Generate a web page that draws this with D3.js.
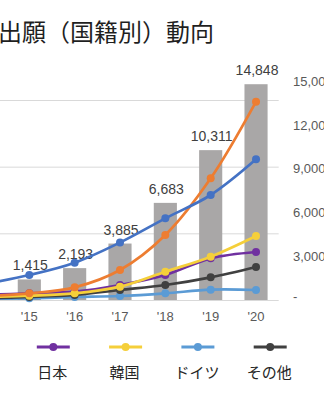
<!DOCTYPE html>
<html>
<head>
<meta charset="utf-8">
<script src="https://cdn.jsdelivr.net/npm/d3@7"></script>
<style>
  html, body { margin: 0; padding: 0; background: #fff; }
  svg { display: block; }
</style>
</head>
<body>
<svg id="chart" width="324" height="400"></svg>
<script>
// Years on the category axis
const years = [2014, 2015, 2016, 2017, 2018, 2019, 2020];
const yearLabels = ["'14", "'15", "'16", "'17", "'18", "'19", "'20"];

// Total applications per year (bars, right axis)
const totals = [920, 1415, 2193, 3885, 6683, 10311, 14848];

// Applications by applicant nationality (lines, left axis)
const seriesNames = ["中国", "米国", "日本", "韓国", "ドイツ", "その他"];
const china   = [110, 200, 380, 900, 1950, 3650, 5950];
const usa     = [480, 750, 1120, 1725, 2450, 3150, 4220];
const japan   = [150, 200, 250, 450, 750, 1250, 1440];
const korea   = [90, 130, 200, 400, 850, 1300, 1920];
const germany = [35, 50, 90, 120, 200, 310, 300];
const others  = [55, 90, 150, 300, 450, 680, 990];

const rightTicks = [0, 3000, 6000, 9000, 12000, 15000];
const leftTicks = [0, 2000, 4000, 6000];

const seriesValues = [china, usa, japan, korea, germany, others];
const seriesColors = ["#ED7D31", "#4472C4", "#7030A0", "#F5CF3A", "#5B9BD5", "#404040"];

const svg = d3.select("#chart");
const numFont = "'Liberation Sans', Arial, sans-serif";
const jpFont = "'Noto Sans CJK JP', 'Noto Sans', sans-serif";

// Title
svg.append("text")
  .attr("x", -2).attr("y", 41)
  .attr("font-family", jpFont)
  .attr("font-size", 24)
  .attr("fill", "#1f1f1f")
  .text("出願（国籍別）動向");

// Scales
const x = d3.scaleBand()
  .domain(years)
  .range([-38.7, 278.7])
  .paddingInner(0.49)
  .paddingOuter(0.245);
const cx = d => x(d) + x.bandwidth() / 2;

const yRight = d3.scaleLinear().domain([0, 15000]).range([300, 82]);
const yLeft = d3.scaleLinear().domain([0, 6000]).range([300, 100]);

// Gridlines (left axis)
svg.append("g").selectAll("line")
  .data(leftTicks)
  .join("line")
  .attr("x1", x.range()[0]).attr("x2", x.range()[1])
  .attr("y1", d => yLeft(d) + 0.5).attr("y2", d => yLeft(d) + 0.5)
  .attr("stroke", "#d9d9d9")
  .attr("stroke-width", 1);

// Right axis labels
svg.append("g").selectAll("text")
  .data(rightTicks)
  .join("text")
  .attr("x", 293)
  .attr("y", d => yRight(d))
  .attr("dy", d => d === 0 ? "0.1em" : "0.33em")
  .attr("font-family", numFont)
  .attr("font-size", 13)
  .attr("fill", "#595959")
  .text(d => d === 0 ? "-" : d3.format(",")(d));

// Bars
svg.append("g").selectAll("rect")
  .data(years.map((yr, i) => ({ yr, v: totals[i] })))
  .join("rect")
  .attr("x", d => x(d.yr))
  .attr("width", x.bandwidth())
  .attr("y", d => yRight(d.v))
  .attr("height", d => yRight(0) - yRight(d.v))
  .attr("fill", "#a9a7a7");

// Bar value labels
svg.append("g").selectAll("text")
  .data(years.map((yr, i) => ({ yr, v: totals[i] })))
  .join("text")
  .attr("x", d => cx(d.yr) + 1)
  .attr("y", d => yRight(d.v) - 9)
  .attr("text-anchor", "middle")
  .attr("font-family", numFont)
  .attr("font-size", 14)
  .attr("fill", "#404040")
  .text(d => d3.format(",")(d.v));

// Category labels
svg.append("g").selectAll("text")
  .data(years.map((yr, i) => ({ yr, label: yearLabels[i] })))
  .join("text")
  .attr("x", d => cx(d.yr))
  .attr("y", 321)
  .attr("text-anchor", "middle")
  .attr("font-family", numFont)
  .attr("font-size", 13)
  .attr("fill", "#595959")
  .text(d => d.label);

// Lines with markers
const line = d3.line()
  .x(d => cx(d.yr))
  .y(d => yLeft(d.v))
  .curve(d3.curveCatmullRom.alpha(0.5));

const drawOrder = [4, 5, 2, 3, 0, 1];
drawOrder.forEach(s => {
  const pts = years.map((yr, i) => ({ yr, v: seriesValues[s][i] }));
  const g = svg.append("g");
  g.append("path")
    .datum(pts)
    .attr("d", line)
    .attr("fill", "none")
    .attr("stroke", seriesColors[s])
    .attr("stroke-width", 2.7);
  g.selectAll("circle")
    .data(pts)
    .join("circle")
    .attr("cx", d => cx(d.yr))
    .attr("cy", d => yLeft(d.v))
    .attr("r", 4)
    .attr("fill", seriesColors[s]);
});

// Legend
const legendStep = 72.3;
const legendX0 = 53.3 - 2 * legendStep;
const legend = svg.append("g").selectAll("g")
  .data(seriesNames.map((name, i) => ({ name, color: seriesColors[i], i })))
  .join("g")
  .attr("transform", d => `translate(${legendX0 + d.i * legendStep},0)`);
legend.append("line")
  .attr("x1", -16.5).attr("x2", 16.5)
  .attr("y1", 347).attr("y2", 347)
  .attr("stroke", d => d.color)
  .attr("stroke-width", 3);
legend.append("circle")
  .attr("cx", 0).attr("cy", 347).attr("r", 4)
  .attr("fill", d => d.color);
legend.append("text")
  .attr("x", -1).attr("y", 378)
  .attr("text-anchor", "middle")
  .attr("font-family", jpFont)
  .attr("font-size", 15)
  .attr("fill", "#262626")
  .text(d => d.name);
</script>
</body>
</html>
